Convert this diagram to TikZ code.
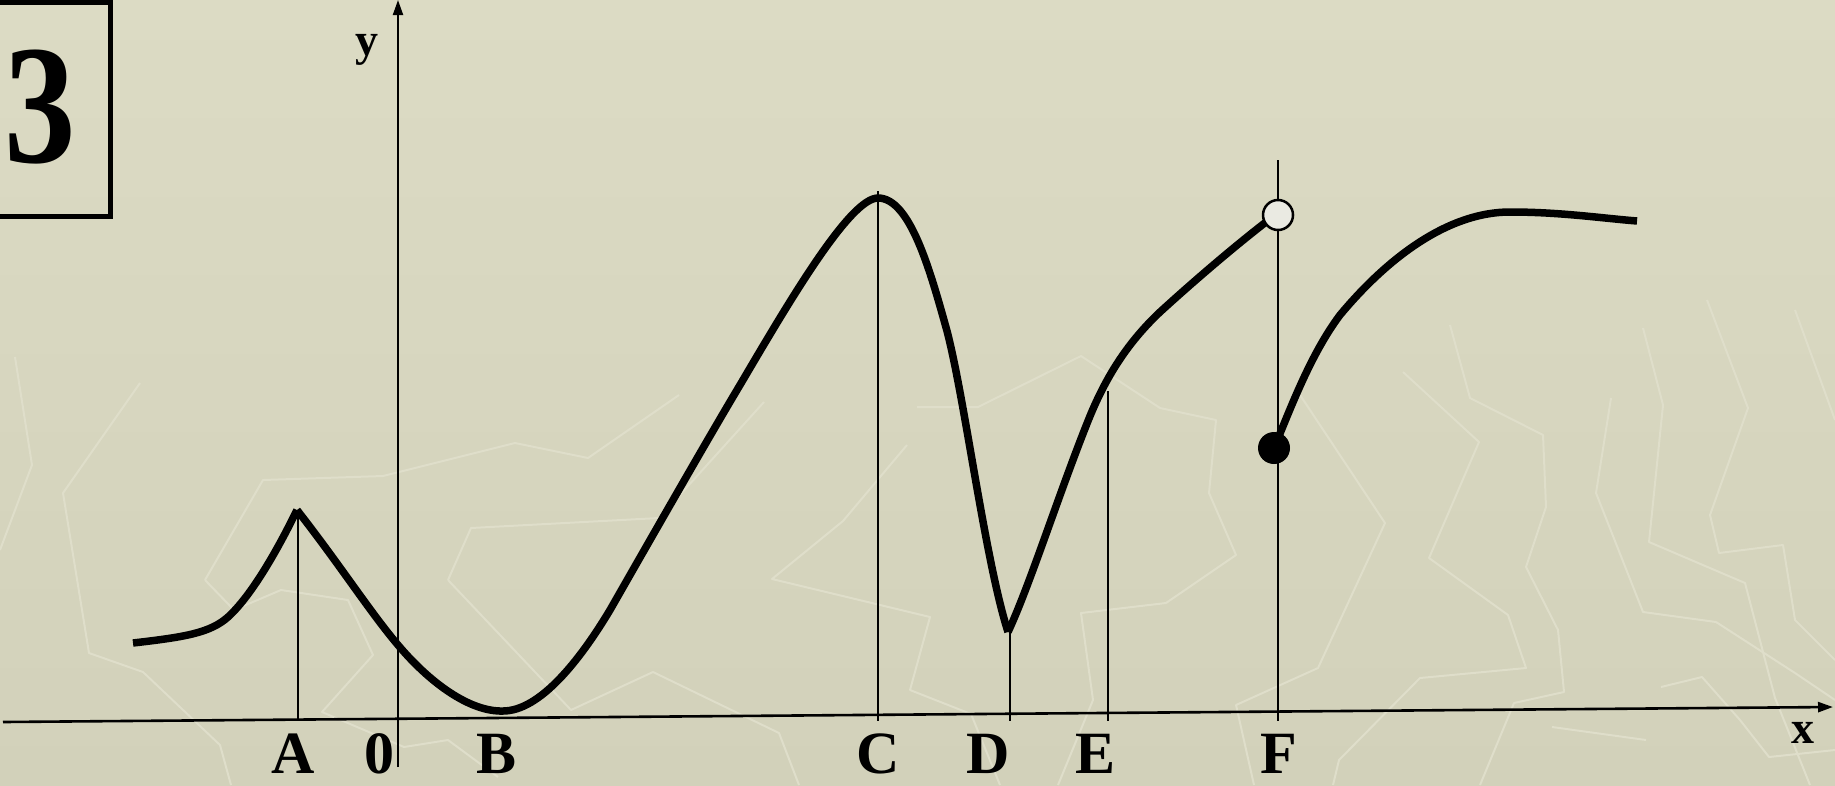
\documentclass[tikz,border=0pt]{standalone}
\usepackage{graphicx}
\usepackage{fontspec}
\setmainfont{Liberation Serif}
\usetikzlibrary{arrows.meta}
\definecolor{bgtop}{HTML}{DCDBC4}
\definecolor{bgbot}{HTML}{D2D1BA}
\definecolor{decocol}{HTML}{DFDECA}
\definecolor{hollow}{HTML}{EAEAE2}
\tikzset{
  curve/.style={line width=7.5pt, line join=round},
  marker/.style={line width=1.8pt},
  xaxis/.style={line width=2.6pt, -{Triangle[length=15pt,width=10pt]}},
  yaxis/.style={line width=2pt, -{Triangle[length=15pt,width=10pt]}},
  lab/.style={font=\bfseries\fontsize{60}{60}\selectfont, anchor=base, inner sep=0pt},
  smalllab/.style={font=\bfseries\fontsize{46}{46}\selectfont, anchor=base, inner sep=0pt},
  decoline/.style={draw=decocol, line width=2pt, line join=round},
}
\begin{document}
\begin{tikzpicture}[x=1pt,y=-1pt]
\useasboundingbox (0,0) rectangle (1835,785);
\shade[top color=bgtop,bottom color=bgbot] (0,0) rectangle (1835,785);

% faint background pattern
\draw[decoline] (15,357) -- (32,465) -- (0,550);
\draw[decoline] (140,383) -- (63,493) -- (89,653) -- (143,672) -- (220,745) -- (231,785);
\draw[decoline] (205,580) -- (263,480) -- (383,476) -- (515,443) -- (588,458) -- (679,395);
\draw[decoline] (205,580) -- (234,610) -- (281,590) -- (348,600) -- (373,655) -- (322,712) -- (404,747) -- (448,740) -- (498,777);
\draw[decoline] (448,580) -- (471,528) -- (659,518) -- (764,402);
\draw[decoline] (448,580) -- (571,710) -- (653,672) -- (779,733) -- (799,785);
\draw[decoline] (907,445) -- (843,521) -- (772,579) -- (930,617) -- (910,690) -- (971,714) -- (1000,785);
\draw[decoline] (917,407) -- (978,407) -- (1081,356) -- (1160,408) -- (1216,420) -- (1209,493) -- (1236,555) -- (1166,603) -- (1081,613) -- (1093,700) -- (1058,785);
\draw[decoline] (1300,395) -- (1385,523) -- (1318,668) -- (1236,705) -- (1254,785);
\draw[decoline] (1403,372) -- (1479,442) -- (1429,558) -- (1508,615) -- (1526,668) -- (1420,678) -- (1339,760) -- (1333,785);
\draw[decoline] (1450,325) -- (1470,398) -- (1543,435) -- (1546,507) -- (1526,567) -- (1558,630) -- (1564,692) -- (1514,703) -- (1480,785);
\draw[decoline] (1611,398) -- (1596,493) -- (1643,612) -- (1716,622) -- (1795,673) -- (1835,700);
\draw[decoline] (1643,328) -- (1663,405) -- (1649,542) -- (1745,583) -- (1775,698) -- (1810,785);
\draw[decoline] (1707,300) -- (1748,408) -- (1710,515) -- (1719,553) -- (1783,545) -- (1795,620) -- (1835,660);
\draw[decoline] (1795,310) -- (1835,420);
\draw[decoline] (1661,687) -- (1702,677) -- (1740,720) -- (1769,757) -- (1835,750);
\draw[decoline] (1552,727) -- (1646,740);

% numbered frame
\draw[line width=5pt] (-10,2) -- (110,2) -- (110,216) -- (-10,216);
\node[anchor=base, inner sep=0pt, font=\bfseries\fontsize{170}{170}\selectfont] (num) at (40,162) {\scalebox{0.84}[1]{3}};

% axes
\coordinate (xstart) at (3,722);
\coordinate (xend) at (1833,707);
\coordinate (ystart) at (398,767);
\coordinate (yend) at (398,0);
\draw[xaxis] (xstart) -- (xend);
\draw[yaxis] (ystart) -- (yend);
\node[smalllab] (ylab) at (367,55) {y};
\node[smalllab] (xlab) at (1803,743) {x};

% marker lines
\coordinate (pA) at (298,510);  \coordinate (bA) at (298,721);
\coordinate (pC) at (878,191);  \coordinate (bC) at (878,721);
\coordinate (pD) at (1010,632); \coordinate (bD) at (1010,721);
\coordinate (pE) at (1108,391); \coordinate (bE) at (1108,721);
\coordinate (pF) at (1278,160); \coordinate (bF) at (1278,721);
\draw[marker] (pA) -- (bA);
\draw[marker] (pC) -- (bC);
\draw[marker] (pD) -- (bD);
\draw[marker] (pE) -- (bE);
\draw[marker] (pF) -- (bF);

% labels
\node[lab] (lA) at (293,773) {A};
\node[lab] (l0) at (379,773) {0};
\node[lab] (lB) at (497,773) {B};
\node[lab] (lC) at (878,773) {C};
\node[lab] (lD) at (988,773) {D};
\node[lab] (lE) at (1095,773) {E};
\node[lab] (lF) at (1279,773) {F};

% the curve
\draw[curve] (133,643) .. controls (185,637) and (210,633) .. (228,617)
                       .. controls (250,597) and (275,555) .. (297,510);
\draw[curve] (297,510) .. controls (340,565) and (370,612) .. (398,645)
                       .. controls (430,683) and (470,712) .. (503,711)
                       .. controls (540,711) and (580,660) .. (610,610)
                       .. controls (650,540) and (710,435) .. (740,385)
                       .. controls (790,300) and (850,198) .. (878,198)
                       .. controls (910,198) and (930,270) .. (947,331)
                       .. controls (965,400) and (985,560) .. (1008,632);
\draw[curve] (1008,632) .. controls (1030,585) and (1060,490) .. (1090,416)
                        .. controls (1105,380) and (1125,345) .. (1160,312)
                        .. controls (1195,280) and (1235,246) .. (1266,222);
\draw[curve] (1274,448) .. controls (1290,410) and (1310,355) .. (1340,315)
                        .. controls (1390,255) and (1450,212) .. (1510,212)
                        .. controls (1560,212) and (1600,218) .. (1637,221);

% end points
\node[circle, draw, line width=2.5pt, fill=hollow, minimum size=30pt, inner sep=0pt] (open) at (1278,215) {};
\node[circle, fill=black, minimum size=32pt, inner sep=0pt] (closed) at (1274,448) {};
\end{tikzpicture}
\end{document}
